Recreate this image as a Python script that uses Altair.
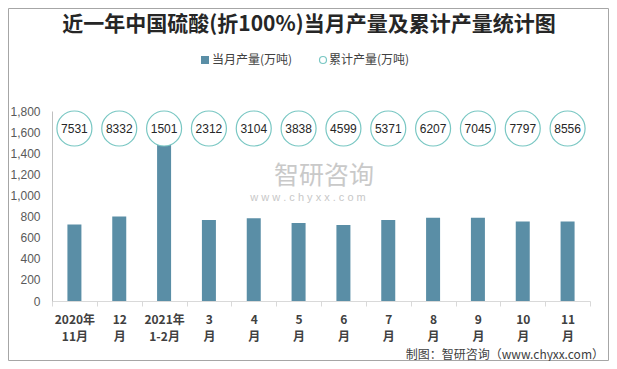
import altair as alt
import pandas as pd

categories = ["2020年\n11月", "12\n月", "2021年\n1-2月", "3\n月", "4\n月", "5\n月",
              "6\n月", "7\n月", "8\n月", "9\n月", "10\n月", "11\n月"]
monthly = [725, 801, 1489, 768, 785, 738, 721, 768, 788, 788, 752, 753]
cumulative = [7531, 8332, 1501, 2312, 3104, 3838, 4599, 5371, 6207, 7045, 7797, 8556]
y_ticks = [0, 200, 400, 600, 800, 1000, 1200, 1400, 1600, 1800]

title_text = "近一年中国硫酸(折100%)当月产量及累计产量统计图"
legend_labels = ["当月产量(万吨)", "累计产量(万吨)"]
footer_text = "制图：智研咨询（www.chyxx.com）"
watermark_cn = "智研咨询"
watermark_url = "w w w . c h y x x . c o m"

df = pd.DataFrame({"cat": categories, "monthly": monthly, "cum": cumulative})
one = pd.DataFrame({"k": [0]})

W, H = 538, 190
PL, PT, PR, PB = 44, 103, 19, 60

BAR = "#5a8ea6"
RING = "#79c7c3"
FONT = "Liberation Sans, Noto Sans CJK SC, sans-serif"
CJK = "Noto Sans CJK SC, sans-serif"

x = alt.X("cat:N", sort=None,
          scale=alt.Scale(paddingInner=0, paddingOuter=0),
          axis=alt.Axis(title=None, labelAngle=0,
                        labelExpr="split(datum.label, '\\n')",
                        labelFont=CJK, labelFontSize=12, labelFontWeight="bold",
                        labelColor="#404040", labelLineHeight=17, labelPadding=8,
                        labelBaseline="top",
                        tickBand="extent", tickSize=5, tickColor="#d9d9d9",
                        domainColor="#d9d9d9"))
y = alt.Y("monthly:Q",
          scale=alt.Scale(domain=[0, 1800], nice=False),
          axis=alt.Axis(title=None, values=y_ticks, format=",d", grid=False,
                        ticks=False, labelPadding=12, labelFont=FONT,
                        labelFontSize=12, labelColor="#595959",
                        domainColor="#bfbfbf"))

base = alt.Chart(df)

bars = base.mark_bar(size=14, color=BAR).encode(x=x, y=y)

rings = base.mark_point(shape="circle", size=1225, fill="white", fillOpacity=1,
                        stroke=RING, strokeWidth=1.2, opacity=1, filled=False).encode(
    x=alt.X("cat:N", sort=None), y=alt.value(17.5))

ring_text = base.mark_text(font=FONT, fontSize=12, color="#262626").encode(
    x=alt.X("cat:N", sort=None), y=alt.value(18), text=alt.Text("cum:Q", format="d"))

title = alt.Chart(one).mark_text(font=CJK, fontSize=21, fontWeight="bold",
                                 color="#262626").encode(
    x=alt.value(257), y=alt.value(-86), text=alt.value(title_text))

leg_sq = alt.Chart(one).mark_square(size=64, color=BAR, opacity=1).encode(
    x=alt.value(153), y=alt.value(-51))
leg_t1 = alt.Chart(one).mark_text(font=CJK, fontSize=12, color="#404040", align="left").encode(
    x=alt.value(160), y=alt.value(-51), text=alt.value(legend_labels[0]))
leg_ci = alt.Chart(one).mark_point(shape="circle", size=49, stroke=RING, strokeWidth=1.2,
                                   fill="white", opacity=1).encode(
    x=alt.value(271), y=alt.value(-51))
leg_t2 = alt.Chart(one).mark_text(font=CJK, fontSize=12, color="#404040", align="left").encode(
    x=alt.value(277), y=alt.value(-51), text=alt.value(legend_labels[1]))

wm1 = alt.Chart(one).mark_text(font=CJK, fontSize=25, color="#c4c4c4", opacity=0.9).encode(
    x=alt.value(272), y=alt.value(65), text=alt.value(watermark_cn))
wm2 = alt.Chart(one).mark_text(font=FONT, fontSize=11, color="#c8c8c8").encode(
    x=alt.value(256), y=alt.value(87), text=alt.value(watermark_url))

footer = alt.Chart(one).mark_text(font=CJK, fontSize=12, color="#404040", align="right").encode(
    x=alt.value(552), y=alt.value(244), text=alt.value(footer_text))

border = alt.Chart(one).mark_rect(fill=None, stroke="#a6a6a6", strokeWidth=1).encode(
    x=alt.value(-PL + 0.5), x2=alt.value(W + PR - 0.5),
    y=alt.value(-PT + 0.5), y2=alt.value(H + PB - 0.5))

chart = alt.layer(border, bars, rings, ring_text, title, leg_sq, leg_t1, leg_ci, leg_t2,
                  wm1, wm2, footer).properties(
    width=W, height=H,
    autosize=alt.AutoSizeParams(type="none"),
    padding={"left": PL, "top": PT, "right": PR, "bottom": PB},
).configure_view(stroke=None)

chart.save("out.html", embed_options={"renderer": "svg", "actions": False})
